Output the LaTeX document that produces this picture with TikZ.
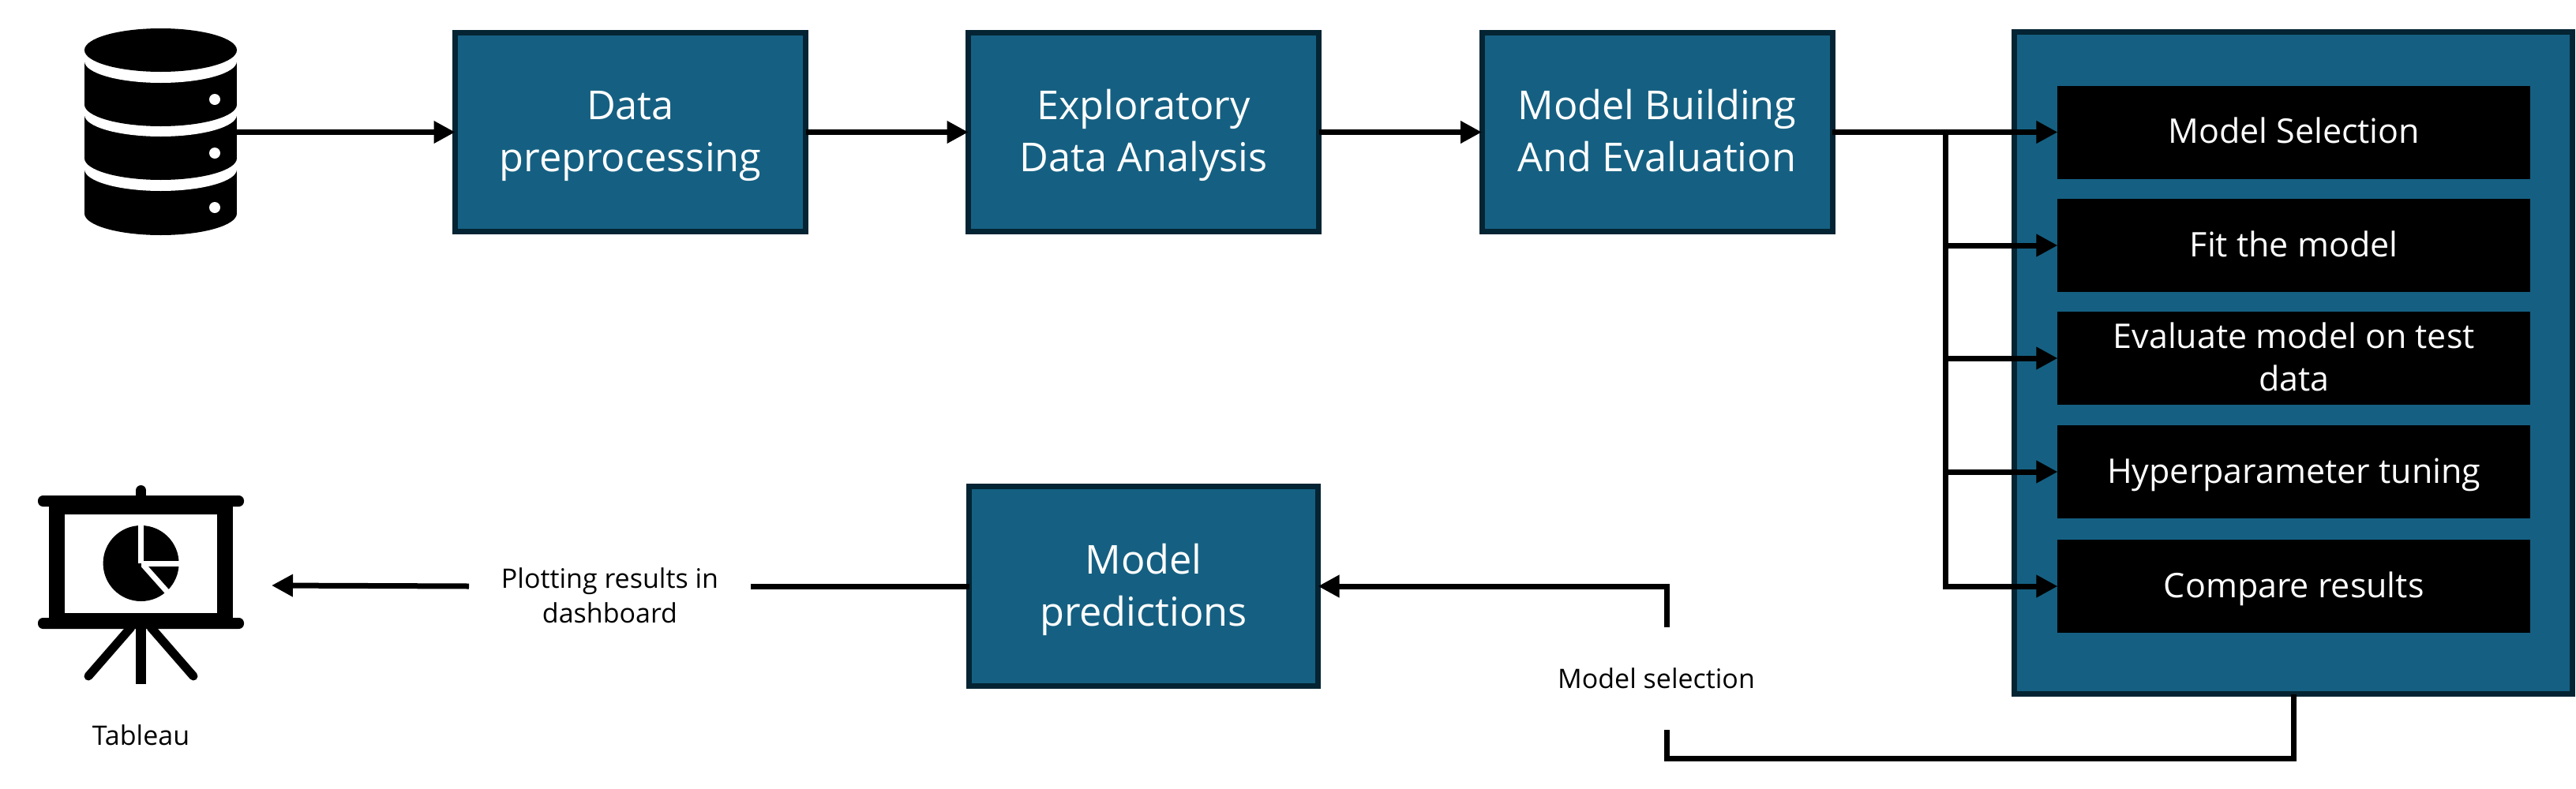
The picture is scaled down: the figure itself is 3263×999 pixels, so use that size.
\documentclass[tikz,border=0pt]{standalone}
\usepackage{fontspec}
\setmainfont{Open Sans}
\usetikzlibrary{arrows.meta,calc}
\definecolor{boxfill}{HTML}{156082}
\definecolor{boxedge}{HTML}{042433}
\newcommand{\hgt}[1]{\rule{0pt}{#1}}
\newcommand{\dpt}[1]{\rule[-#1]{0pt}{#1}}
\tikzset{
  x=1pt,y=-1pt,
  flowbox/.style={draw=boxedge,fill=boxfill,line width=7pt,outer sep=0pt,inner sep=0pt,text=white,align=center,font=\fontsize{50.5}{66}\selectfont},
  blackbox/.style={fill=black,outer sep=0pt,inner sep=0pt,text=white,align=center,minimum width=598.5pt,minimum height=118pt,font=\fontsize{43}{54}\selectfont},
  labeltext/.style={inner sep=0pt,outer sep=0pt,align=center,font=\fontsize{34}{44}\selectfont},
  ghost/.style={inner sep=0pt,outer sep=0pt},
  conn/.style={line width=7pt},
  arrowconn/.style={line width=7pt,-{Triangle[length=27pt,width=27pt]}},
}
\begin{document}
\begin{tikzpicture}
\useasboundingbox (0,0) rectangle (3263,999);
\fill[white] (0,0) rectangle (3263,999);

% database icon
\node[ghost,minimum width=193pt,minimum height=262pt] (db) at (203.5,167) {};
\foreach \t/\b/\w in {215/270.5/214.5,146/200.5/145.5,78/132.5/77.5}{
  \fill[black] (107,\t) rectangle (300,\b);
  \fill[black] (203.5,\b) ellipse [x radius=96.5pt,y radius=27.5pt];
  \fill[white] (203.5,\w) ellipse [x radius=96.5pt,y radius=27.5pt];
}
\fill[black] (203.5,63.5) ellipse [x radius=96.5pt,y radius=27.5pt];
\foreach \y in {126,194,263}{
  \fill[white] (272,\y) circle [radius=7pt];
}

% main boxes
\node[flowbox,minimum width=444pt,minimum height=252pt] (data) at (798.5,167.5) {\hgt{60pt}Data\\preprocessing\dpt{25.6pt}};
\node[flowbox,minimum width=444pt,minimum height=252pt] (eda) at (1448.5,167.5) {\hgt{60pt}Exploratory\\Data Analysis\dpt{25.6pt}};
\node[flowbox,minimum width=444pt,minimum height=252pt] (mb) at (2099,167.5) {\hgt{60pt}Model Building\\And Evaluation\dpt{25.6pt}};
\node[flowbox,minimum width=442pt,minimum height=253pt] (pred) at (1448.5,743) {\hgt{60pt}Model\\predictions\dpt{25.6pt}};
\node[flowbox,minimum width=707pt,minimum height=839pt] (panel) at (2905,460) {};

% inner black boxes
\node[blackbox] (b1) at (2905.7,167.5) {\hgt{46pt}Model Selection\dpt{18pt}};
\node[blackbox] (b2) at (2905.7,311) {\hgt{46pt}Fit the model\dpt{18pt}};
\node[blackbox] (b3) at (2905.7,454) {\hgt{46pt}Evaluate model on test\\data\dpt{18pt}};
\node[blackbox] (b4) at (2905.7,598) {\hgt{46pt}Hyperparameter tuning\dpt{18pt}};
\node[blackbox] (b5) at (2905.7,743) {\hgt{46pt}Compare results\dpt{18pt}};

% labels
\node[labeltext,minimum width=357pt] (plot) at (772.5,753) {\hgt{40pt}Plotting results in\\dashboard\dpt{12pt}};
\node[labeltext,anchor=base] (tab) at (178.5,944) {Tableau};
\node[labeltext,anchor=base] (sel) at (2098,872) {Model selection};

% presentation icon
\node[ghost,minimum width=261pt,minimum height=252pt] (icon) at (178.5,741) {};
\draw[black,line width=13pt,line cap=round] (178.6,628) -- (178.6,621.5);
\fill[black] (62,635) rectangle (295,790);
\fill[white] (82,652) rectangle (275,777);
\fill[black,rounded corners=6.5pt] (48,628) rectangle (309,642);
\fill[black,rounded corners=6.5pt] (48,783) rectangle (309,797);
\draw[black,line width=13pt] (178.6,795) -- (178.6,867);
\draw[black,line width=11pt,line cap=round] (166,795) -- (112,857);
\draw[black,line width=11pt,line cap=round] (191,795) -- (245,857);
\fill[black] (178.6,714) circle [radius=48pt];
\draw[white,line width=7pt] (178.5,660) -- (178.5,714);
\draw[white,line width=7pt] (178.5,714) -- (232,714);
\draw[white,line width=7pt] (181.5,716) -- (218,757);

% connectors
\coordinate (trunk) at (2464.5,167.5);
\coordinate (seltop) at (2111,795);
\coordinate (selbot) at (2111,925);
\coordinate (selcorner) at (2111,961);
\coordinate (icontip) at (344,742);
\draw[arrowconn] (db.east |- data.west) -- (data.west);
\draw[arrowconn] (data.east) -- (eda.west);
\draw[arrowconn] (eda.east) -- (mb.west);
\draw[arrowconn] (mb.east) -- (b1.west);
\draw[arrowconn] (trunk) |- (b2.west);
\draw[arrowconn] (trunk) |- (b3.west);
\draw[arrowconn] (trunk) |- (b4.west);
\draw[arrowconn] (trunk) |- (b5.west);
\draw[conn] (panel.south) |- (selcorner) -- (selbot);
\draw[arrowconn] (seltop) |- (pred.east);
\draw[conn] (pred.west) -- (plot.east |- pred.west);
\draw[arrowconn] (plot.west |- pred.west) -- (icontip);
\end{tikzpicture}
\end{document}
